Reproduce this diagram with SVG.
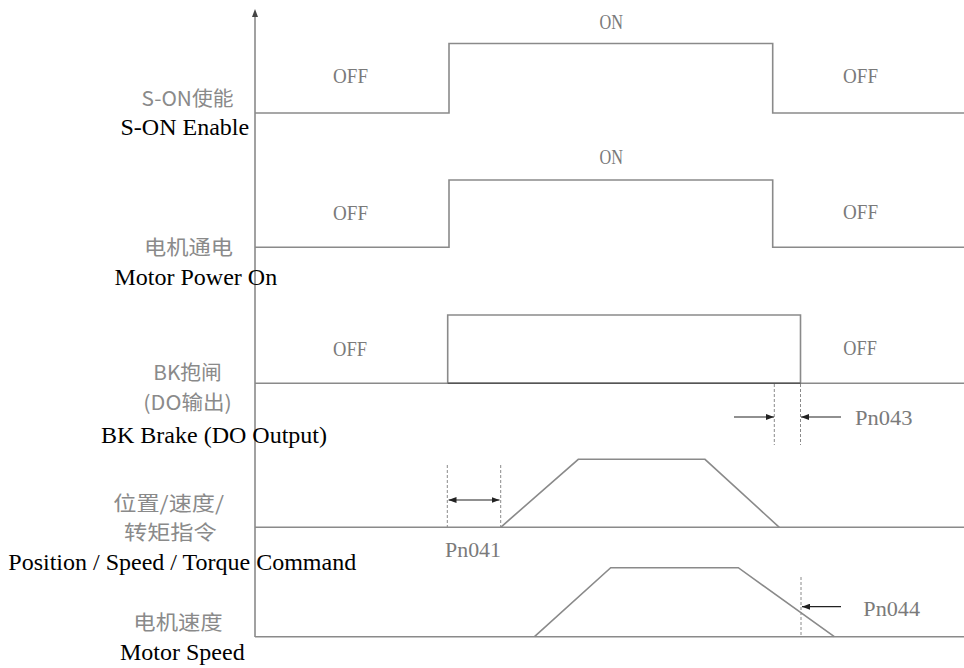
<svg xmlns="http://www.w3.org/2000/svg" width="964" height="668" viewBox="0 0 964 668">
<style>
.sig{fill:none;stroke:#8a8a8a;stroke-width:1.6;stroke-linejoin:miter}
.dark{fill:none;stroke:#555;stroke-width:1.6}
.dash{fill:none;stroke:#8a8a8a;stroke-width:1;stroke-dasharray:3 2}
.dim{fill:none;stroke:#222;stroke-width:1.2}
.g{font-family:"Liberation Serif","Noto Sans CJK SC",serif;font-size:22px;fill:#7a7a7a}
.cn{font-family:"Noto Sans CJK SC","Liberation Serif",sans-serif;font-size:20px;fill:#8a8a8a}
.en{font-family:"Liberation Serif","Times New Roman",serif;font-size:24px;fill:#000}
</style>
<defs>
<marker id="ah" viewBox="0 0 8 6" refX="8" refY="3" markerWidth="8" markerHeight="6" markerUnits="userSpaceOnUse" orient="auto-start-reverse">
<path d="M0,0 L8,3 L0,6 Z" fill="#222"/>
</marker>
<marker id="axh" viewBox="0 0 6 8" refX="3" refY="0" markerWidth="6" markerHeight="8" markerUnits="userSpaceOnUse" orient="0">
<path d="M3,0 L6,7 L0,7 Z" fill="#333"/>
</marker>
</defs>

<g id="axis">
<line class="sig" x1="255" y1="637" x2="255" y2="12"/>
<path d="M255,9 L258,17 L252,17 Z" fill="#444"/>
</g>

<g id="signal-son">
<path class="sig" d="M255,113 H449 V43.5 H772.7 V113 H964"/>
<text class="g" x="599.5" y="28.5" textLength="23.5" lengthAdjust="spacingAndGlyphs">ON</text>
<text class="g" x="333" y="82.5" textLength="35" lengthAdjust="spacingAndGlyphs">OFF</text>
<text class="g" x="843" y="82.5" textLength="35" lengthAdjust="spacingAndGlyphs">OFF</text>
<text class="cn" x="141.5" y="106" textLength="92" lengthAdjust="spacingAndGlyphs">S-ON使能</text>
<text class="en" x="120.5" y="135">S-ON Enable</text>
</g>

<g id="signal-power">
<path class="sig" d="M255,247.3 H449 V180 H772.7 V247.3 H964"/>
<text class="g" x="599.5" y="163.5" textLength="23.5" lengthAdjust="spacingAndGlyphs">ON</text>
<text class="g" x="333" y="220" textLength="35" lengthAdjust="spacingAndGlyphs">OFF</text>
<text class="g" x="843" y="219" textLength="35" lengthAdjust="spacingAndGlyphs">OFF</text>
<text class="cn" x="144" y="255" textLength="89" lengthAdjust="spacingAndGlyphs">电机通电</text>
<text class="en" x="114.5" y="285">Motor Power On</text>
</g>

<g id="signal-bk">
<path class="sig" d="M255,383.3 H964"/>
<path class="sig" d="M447.7,383.3 V315 H800.5 V383.3"/>
<line class="dark" x1="447.7" y1="383.3" x2="800.5" y2="383.3"/>
<text class="g" x="333" y="356" textLength="34" lengthAdjust="spacingAndGlyphs">OFF</text>
<text class="g" x="843.3" y="355" textLength="33.5" lengthAdjust="spacingAndGlyphs">OFF</text>
<text class="cn" x="153.3" y="380" textLength="68.5" lengthAdjust="spacingAndGlyphs">BK抱闸</text>
<text class="cn" x="143.3" y="409.5" textLength="88.5" lengthAdjust="spacingAndGlyphs">(DO输出)</text>
<text class="en" x="101" y="443.3">BK Brake (DO Output)</text>
</g>

<g id="signal-cmd">
<path class="sig" d="M255,527.3 H964"/>
<path class="sig" d="M500.7,527.3 L578.3,459.3 H705 L779.3,527.3"/>
<text class="cn" x="113.3" y="511" textLength="110.7" lengthAdjust="spacingAndGlyphs">位置/速度/</text>
<text class="cn" x="124" y="539.5" textLength="92.7" lengthAdjust="spacingAndGlyphs">转矩指令</text>
<text class="en" x="8.3" y="570">Position / Speed / Torque Command</text>
<text class="g" x="445" y="556.7" textLength="56" lengthAdjust="spacingAndGlyphs">Pn041</text>
</g>

<g id="signal-speed">
<path class="sig" d="M255,636.7 H964"/>
<path class="sig" d="M534.5,636.7 L610.7,567.7 H738.3 L834.3,636.7"/>
<text class="cn" x="133.3" y="629.5" textLength="89.4" lengthAdjust="spacingAndGlyphs">电机速度</text>
<text class="en" x="120" y="660">Motor Speed</text>
</g>

<g id="connectors">
<line class="dash" x1="774.3" y1="384" x2="774.3" y2="445"/>
<line class="dash" x1="800.5" y1="384" x2="800.5" y2="445"/>
<line class="dim" x1="734" y1="417" x2="774" y2="417" marker-end="url(#ah)"/>
<line class="dim" x1="841" y1="417" x2="801" y2="417" marker-end="url(#ah)"/>
<text class="g" x="855" y="425" textLength="57.5" lengthAdjust="spacingAndGlyphs">Pn043</text>

<line class="dash" x1="447.3" y1="465" x2="447.3" y2="527"/>
<line class="dash" x1="500.7" y1="465" x2="500.7" y2="527"/>
<line class="dim" x1="448.5" y1="500" x2="499.5" y2="500" marker-start="url(#ah)" marker-end="url(#ah)"/>

<line class="dash" x1="801" y1="577" x2="801" y2="636"/>
<line class="dim" x1="841" y1="606.7" x2="802" y2="606.7" marker-end="url(#ah)"/>
<text class="g" x="863.3" y="616" textLength="56.7" lengthAdjust="spacingAndGlyphs">Pn044</text>
</g>
</svg>
